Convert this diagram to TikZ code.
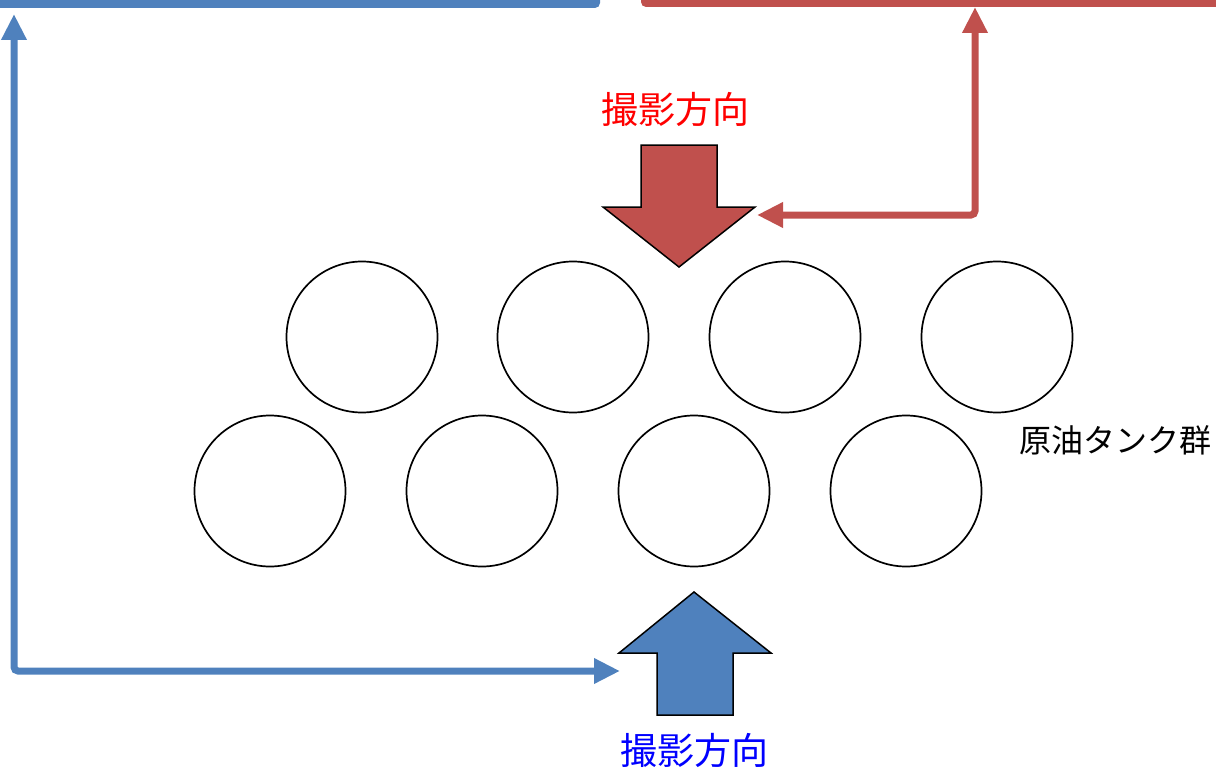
\documentclass[tikz,border=0pt]{standalone}
\usepackage{fontspec}
\newfontfamily\cjk{Noto Sans CJK JP}
\usetikzlibrary{arrows.meta}
\definecolor{lblue}{RGB}{79,129,189}
\definecolor{lred}{RGB}{192,80,77}
\tikzset{
  tank/.style={circle,draw=black,line width=1.7pt,minimum size=151pt,inner sep=0pt},
  conn/.style={line width=7pt,rounded corners=4pt,{Triangle[length=26pt,width=24pt]}-{Triangle[length=26pt,width=24pt]}},
  blk/.style={draw=black,line width=1.5pt,line join=miter},
  lbl/.style={font=\cjk\fontsize{37}{37}\selectfont,inner sep=0pt}
}
\begin{document}
\begin{tikzpicture}[x=1pt,y=-1pt]
\useasboundingbox (0,0) rectangle (1216,768);
\begin{scope}
\clip (0,0) rectangle (1216,768);
% top bars
\fill[lblue,rounded corners=5pt] (-20,-30) rectangle (600,8);
\fill[lred,rounded corners=5pt] (641,-30) rectangle (1240,7);
\end{scope}
% tanks
\node[tank] (t1) at (362,337) {};
\node[tank] (t2) at (573,337) {};
\node[tank] (t3) at (785,337) {};
\node[tank] (t4) at (997,337) {};
\node[tank] (t5) at (270,491) {};
\node[tank] (t6) at (482,491) {};
\node[tank] (t7) at (694,491) {};
\node[tank] (t8) at (906,491) {};
\node[font=\cjk\fontsize{32}{32}\selectfont,anchor=west,inner sep=0pt] (grp) at (1019,440) {原油タンク群};
% block arrows
\path[blk,fill=lred] (641,145) -- (717,145) -- (717,207) -- (755,207) -- (679,267) -- (603,207) -- (641,207) -- cycle;
\path[blk,fill=lblue] (657,715) -- (733,715) -- (733,653) -- (771,653) -- (694,592) -- (619,653) -- (657,653) -- cycle;
\coordinate (rtip) at (757,215);
\coordinate (rtop) at (975,7);
\coordinate (btip) at (620,671);
\coordinate (btop) at (14,14);
\node[lbl,text=red] (rl) at (675,109) {撮影方向};
\node[lbl,text=blue] (bl) at (694,750) {撮影方向};
% connectors
\draw[conn,lred] (rtop) |- (rtip);
\draw[conn,lblue] (btop) |- (btip);
\end{tikzpicture}
\end{document}
